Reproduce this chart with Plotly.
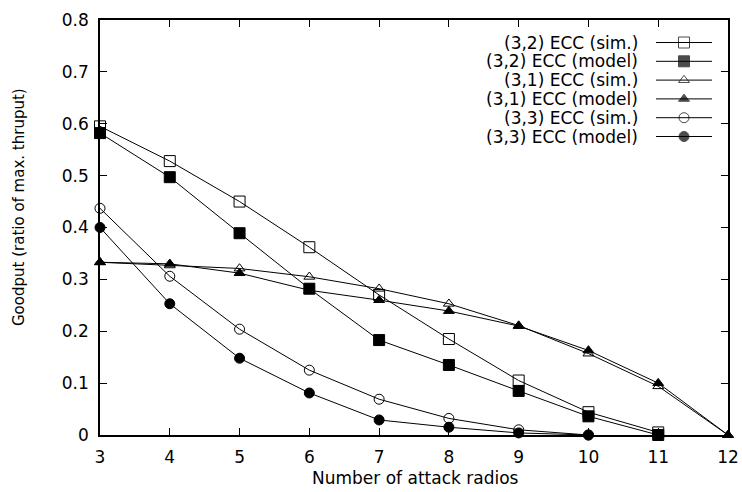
import plotly.graph_objects as go

# ---- data ----
x_32 = [3, 4, 5, 6, 7, 8, 9, 10, 11]
sim_32 = [0.595, 0.528, 0.450, 0.362, 0.270, 0.185, 0.105, 0.044, 0.005]
model_32 = [0.582, 0.497, 0.389, 0.282, 0.183, 0.135, 0.085, 0.036, 0.0]

x_31 = [3, 4, 5, 6, 7, 8, 9, 10, 11, 12]
sim_31 = [0.333, 0.327, 0.321, 0.305, 0.282, 0.253, 0.211, 0.157, 0.094, 0.0]
model_31 = [0.333, 0.330, 0.312, 0.279, 0.260, 0.239, 0.210, 0.163, 0.100, 0.0]

x_33 = [3, 4, 5, 6, 7, 8, 9, 10]
sim_33 = [0.437, 0.306, 0.204, 0.125, 0.069, 0.032, 0.010, 0.0]
model_33 = [0.400, 0.253, 0.148, 0.081, 0.029, 0.015, 0.004, 0.0]

names = ["(3,2) ECC (sim.)", "(3,2) ECC (model)", "(3,1) ECC (sim.)",
         "(3,1) ECC (model)", "(3,3) ECC (sim.)", "(3,3) ECC (model)"]

x_ticks = list(range(3, 13))
y_ticks = [0, 0.1, 0.2, 0.3, 0.4, 0.5, 0.6, 0.7, 0.8]
y_tick_labels = ["0", "0.1", "0.2", "0.3", "0.4", "0.5", "0.6", "0.7", "0.8"]

# ---- styles ----
series = [
    (x_32, sim_32, "square-open", 11),
    (x_32, model_32, "square", 11),
    (x_31, sim_31, "triangle-up-open", 9.5),
    (x_31, model_31, "triangle-up", 9.5),
    (x_33, sim_33, "circle-open", 10),
    (x_33, model_33, "circle", 10),
]

W, H = 742, 492
L, R, T, B = 100, 14, 20, 57
PW, PH = W - L - R, H - T - B
FONT = "DejaVu Sans"

fig = go.Figure()
for (xs, ys, sym, sz), nm in zip(series, names):
    fig.add_trace(go.Scatter(
        x=xs, y=ys, mode="lines+markers", name=nm, showlegend=False,
        line=dict(color="black", width=1),
        marker=dict(symbol=sym, size=sz, color="black",
                    line=dict(color="black", width=1)),
        cliponaxis=False,
    ))

# ---- custom legend (symbol on the right of the text) ----
def px_x(p):
    return (p - L) / PW

def px_y(p):
    return (H - B - p) / PH

leg_text_right = 640
leg_line = (656, 712)
leg_mark = 684
leg_row0, leg_dy = 42.5, 18.8

leg_mx, leg_my, leg_sym, leg_sz = [], [], [], []
for i, ((xs, ys, sym, sz), nm) in enumerate(zip(series, names)):
    yy = px_y(leg_row0 + i * leg_dy)
    fig.add_annotation(x=px_x(leg_text_right), y=yy, xref="paper", yref="paper",
                       text=nm, showarrow=False, xanchor="right", yanchor="middle",
                       font=dict(family=FONT, size=17, color="black"))
    fig.add_shape(type="line", xref="paper", yref="paper",
                  x0=px_x(leg_line[0]), x1=px_x(leg_line[1]), y0=yy, y1=yy,
                  line=dict(color="black", width=1))
    leg_mx.append(px_x(leg_mark))
    leg_my.append(yy)
    leg_sym.append(sym)
    leg_sz.append(sz)

fig.add_trace(go.Scatter(
    x=leg_mx, y=leg_my, xaxis="x2", yaxis="y2", mode="markers", showlegend=False,
    marker=dict(symbol=leg_sym, size=leg_sz, color="black",
                line=dict(color="black", width=1)),
    hoverinfo="skip", cliponaxis=False,
))

# y axis title as annotation
fig.add_annotation(x=-(L - 19) / PW, y=px_y(207), xref="paper", yref="paper",
                   text="Goodput (ratio of max. thruput)", showarrow=False,
                   textangle=-90, xanchor="center", yanchor="middle",
                   font=dict(family=FONT, size=15, color="black"))
# x axis title
fig.add_annotation(x=px_x(415), y=px_y(478), xref="paper", yref="paper",
                   text="Number of attack radios", showarrow=False,
                   xanchor="center", yanchor="middle",
                   font=dict(family=FONT, size=17, color="black"))

axis_common = dict(showgrid=False, zeroline=False, showline=True, linecolor="black",
                   linewidth=1.5, mirror="allticks", ticks="inside", ticklen=7,
                   tickwidth=1, tickcolor="black", automargin=False,
                   tickfont=dict(family=FONT, size=17, color="black"))

fig.update_layout(
    width=W, height=H, margin=dict(l=L, r=R, t=T, b=B, pad=0, autoexpand=False),
    paper_bgcolor="white", plot_bgcolor="white",
    font=dict(family=FONT, size=17, color="black"),
    xaxis=dict(range=[3, 12], tickvals=x_ticks, ticklabelstandoff=6, **axis_common),
    yaxis=dict(range=[0, 0.8], tickvals=y_ticks, ticktext=y_tick_labels,
               ticklabelstandoff=6, **axis_common),
    xaxis2=dict(overlaying="x", range=[0, 1], visible=False),
    yaxis2=dict(overlaying="y", range=[0, 1], visible=False),
    showlegend=False,
)

fig.write_html("out.html")
